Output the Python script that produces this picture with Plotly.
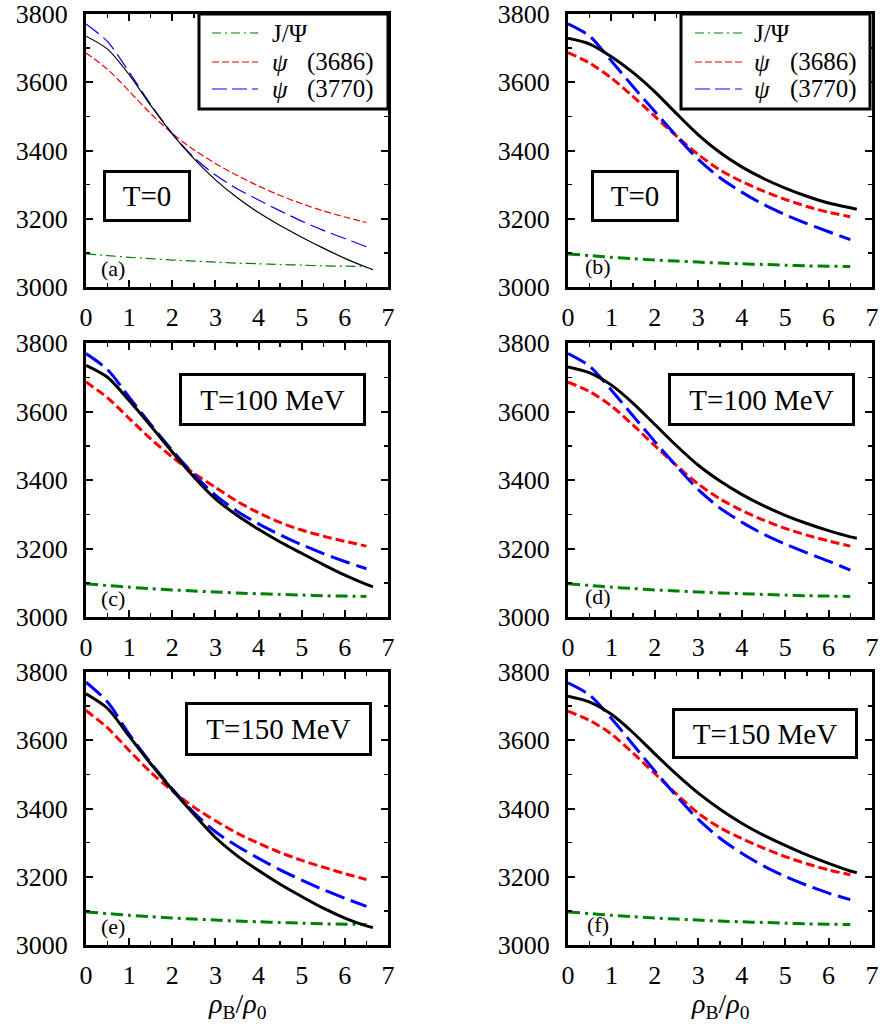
import plotly.graph_objects as go

# ---------------- data ----------------
x_grid = [0, 0.5, 1, 1.5, 2, 2.5, 3, 3.5, 4, 4.5, 5, 5.5, 6, 6.5]
x_black = [0, 0.5, 1, 1.5, 2, 2.5, 3, 3.5, 4, 4.5, 5, 5.5, 6, 6.5, 6.65]

jpsi = [3097, 3092, 3087, 3083, 3079, 3076, 3073, 3070, 3068, 3066, 3064, 3062, 3061, 3060]

# panel (a)
a_black = [3735, 3697, 3622, 3532, 3448, 3376, 3314, 3262, 3218, 3180, 3146, 3114, 3084, 3058, 3051]
a_blue = [3771, 3719, 3630, 3535, 3450, 3380, 3328, 3288, 3255, 3223, 3193, 3166, 3142, 3118]
a_red = [3686, 3638, 3574, 3508, 3450, 3402, 3362, 3327, 3296, 3268, 3244, 3223, 3205, 3189]
# panel (b)
b_black = [3729, 3712, 3675, 3628, 3572, 3508, 3446, 3394, 3352, 3318, 3290, 3266, 3246, 3232, 3228]
b_blue = [3771, 3735, 3662, 3587, 3514, 3442, 3374, 3320, 3278, 3242, 3212, 3186, 3162, 3139]
b_red = [3687, 3656, 3612, 3558, 3500, 3442, 3388, 3343, 3309, 3281, 3257, 3236, 3219, 3206]
# panel (c)
c_black = [3735, 3700, 3632, 3558, 3482, 3409, 3345, 3297, 3256, 3219, 3186, 3153, 3122, 3095, 3088]
c_blue = [3769, 3722, 3642, 3562, 3486, 3416, 3356, 3309, 3272, 3240, 3211, 3185, 3162, 3141]
c_red = [3686, 3640, 3580, 3520, 3467, 3420, 3378, 3338, 3304, 3276, 3254, 3236, 3221, 3207]
# panel (d)
d_black = [3730, 3713, 3677, 3624, 3562, 3500, 3443, 3397, 3358, 3325, 3297, 3273, 3252, 3234, 3230]
d_blue = [3769, 3732, 3662, 3587, 3512, 3440, 3372, 3318, 3277, 3242, 3213, 3187, 3163, 3137]
d_red = [3686, 3658, 3616, 3560, 3500, 3442, 3388, 3345, 3311, 3283, 3259, 3239, 3222, 3207]
# panel (e)
e_black = [3736, 3693, 3612, 3531, 3455, 3383, 3315, 3262, 3218, 3178, 3142, 3108, 3079, 3056, 3051]
e_blue = [3770, 3712, 3618, 3534, 3457, 3388, 3332, 3290, 3254, 3220, 3190, 3162, 3137, 3113]
e_red = [3687, 3636, 3570, 3506, 3452, 3404, 3364, 3328, 3298, 3271, 3248, 3228, 3209, 3192]
# panel (f)
f_black = [3729, 3712, 3676, 3622, 3560, 3500, 3445, 3398, 3357, 3322, 3292, 3264, 3239, 3217, 3212]
f_blue = [3768, 3732, 3664, 3587, 3510, 3436, 3368, 3313, 3269, 3232, 3201, 3175, 3152, 3133]
f_red = [3685, 3658, 3618, 3562, 3502, 3442, 3386, 3344, 3312, 3284, 3259, 3238, 3220, 3206]

panel_labels = ["(a)", "(b)", "(c)", "(d)", "(e)", "(f)"]
temp_labels = ["T=0", "T=0", "T=100 MeV", "T=100 MeV", "T=150 MeV", "T=150 MeV"]
legend_names = ["J/Ψ", "<i>ψ</i>", "<i>ψ</i>"]
legend_nums = ["", "(3686)", "(3770)"]
x_ticks = [0, 1, 2, 3, 4, 5, 6, 7]
y_ticks = [3000, 3200, 3400, 3600, 3800]

panels = [
    (a_black, a_blue, a_red),
    (b_black, b_blue, b_red),
    (c_black, c_blue, c_red),
    (d_black, d_blue, d_red),
    (e_black, e_blue, e_red),
    (f_black, f_blue, f_red),
]

# ---------------- layout helpers ----------------
W, H = 880, 1024
FONT = "Liberation Serif"
GREEN, RED, BLUE, BLACK = "#008000", "#ff0000", "#0000ff", "#000000"


def px(x):
    return x / W


def py(y):
    return 1 - y / H


col_dom = [(px(86), px(388)), (px(568), px(872))]
row_dom = [(py(287), py(14)), (py(617), py(343)), (py(945), py(672))]

fig = go.Figure()

for i, (blk, blu, red) in enumerate(panels):
    r, c = divmod(i, 2)
    n = i + 1
    xa = "x" if n == 1 else f"x{n}"
    ya = "y" if n == 1 else f"y{n}"
    thin = (i == 0)
    lw = 1.2 if thin else 3
    dash_g = "10px,4px,2px,4px" if thin else "12px,5px,3px,5px"
    dash_r = "7px,3px" if thin else "9px,4px"
    dash_b = "16px,6px" if thin else "20px,7px"
    common = dict(xaxis=xa, yaxis=ya, mode="lines", showlegend=False,
                  line_shape="spline", hoverinfo="skip")
    fig.add_trace(go.Scatter(x=x_grid, y=jpsi, line=dict(color=GREEN, width=lw, dash=dash_g, smoothing=0.8), **common))
    fig.add_trace(go.Scatter(x=x_grid, y=red, line=dict(color=RED, width=lw, dash=dash_r, smoothing=0.8), **common))
    fig.add_trace(go.Scatter(x=x_grid, y=blu, line=dict(color=BLUE, width=lw, dash=dash_b, smoothing=0.8), **common))
    fig.add_trace(go.Scatter(x=x_black, y=blk, line=dict(color=BLACK, width=lw, smoothing=0.8), **common))

    axis_common = dict(showline=True, linewidth=3, linecolor="black", mirror="ticks",
                       ticks="inside", ticklen=7, tickwidth=2, tickcolor="black",
                       showgrid=False, zeroline=False, automargin=False,
                       ticklabeloverflow="allow",
                       tickfont=dict(family=FONT, size=26, color="black"))
    xkey = "xaxis" if n == 1 else f"xaxis{n}"
    ykey = "yaxis" if n == 1 else f"yaxis{n}"
    fig.update_layout({
        xkey: dict(domain=col_dom[c], anchor=ya, range=[0, 7], tickvals=x_ticks,
                   minor=dict(dtick=0.5, tick0=0, ticks="inside", ticklen=4, tickwidth=1.5, tickcolor="black"),
                   ticklabelstandoff=5, **axis_common),
        ykey: dict(domain=row_dom[r], anchor=xa, range=[3000, 3800], tickvals=y_ticks,
                   minor=dict(dtick=100, tick0=3000, ticks="inside", ticklen=4, tickwidth=1.5, tickcolor="black"),
                   ticklabelstandoff=10, **axis_common),
    })

# panel letters
label_pos = [(0.63, 3053), (0.69, 3059), (0.63, 3053), (0.69, 3059), (0.63, 3053), (0.69, 3059)]
for i, lab in enumerate(panel_labels):
    n = i + 1
    fig.add_annotation(x=label_pos[i][0], y=label_pos[i][1],
                       xref="x" if n == 1 else f"x{n}", yref="y" if n == 1 else f"y{n}",
                       text=lab, showarrow=False, xanchor="center", yanchor="middle",
                       font=dict(family=FONT, size=22, color="black"))

# temperature boxes
temp_pos = [(1.414, 3267, 82, 46), (1.554, 3267, 82, 46), (4.32, 3635, 181, 47),
            (4.455, 3635, 181, 47), (4.46, 3633, 181, 48), (4.536, 3620, 180, 45)]
for i, lab in enumerate(temp_labels):
    n = i + 1
    xx, yy, ww, hh = temp_pos[i]
    fig.add_annotation(x=xx, y=yy, xref="x" if n == 1 else f"x{n}", yref="y" if n == 1 else f"y{n}",
                       text=lab, showarrow=False, width=ww, height=hh, borderpad=0,
                       xanchor="center", yanchor="middle",
                       bordercolor="black", borderwidth=3, bgcolor="white",
                       font=dict(family=FONT, size=29, color="black"))

# legends (panels a and b)
leg_geo = [
    dict(box=(199, 388, 14, 109), line=(212, 258), text=270, num=305),
    dict(box=(681, 870, 14, 109), line=(695, 742), text=752, num=788),
]
leg_rows = [33, 62, 89]
leg_styles = [(GREEN, "9px,4px,2px,4px"), (RED, "7px,3px"), (BLUE, "15px,5px")]
for g in leg_geo:
    x0, x1, y0, y1 = g["box"]
    fig.add_shape(type="rect", xref="paper", yref="paper", x0=px(x0), x1=px(x1), y0=py(y1), y1=py(y0),
                  line=dict(color="black", width=3), fillcolor="white", layer="above")
    for k, yr in enumerate(leg_rows):
        col, dsh = leg_styles[k]
        fig.add_shape(type="line", xref="paper", yref="paper", x0=px(g["line"][0]), x1=px(g["line"][1]),
                      y0=py(yr), y1=py(yr), line=dict(color=col, width=1.2, dash=dsh), layer="above")
        fig.add_annotation(x=px(g["text"]), y=py(yr), xref="paper", yref="paper",
                           xanchor="left", yanchor="middle",
                           text=legend_names[k], showarrow=False, font=dict(family=FONT, size=25, color="black"))
        if legend_nums[k]:
            fig.add_annotation(x=px(g["num"]), y=py(yr), xref="paper", yref="paper",
                               xanchor="left", yanchor="middle",
                               text=legend_nums[k], showarrow=False, font=dict(family=FONT, size=25, color="black"))

# x-axis titles under the bottom panels
for cx in (237, 720):
    fig.add_annotation(x=px(cx), y=py(1005), xref="paper", yref="paper",
                       xanchor="center", yanchor="middle",
                       text="<i>ρ</i><sub>B</sub>/<i>ρ</i><sub>0</sub>", showarrow=False,
                       font=dict(family=FONT, size=28, color="black"))

fig.update_layout(width=W, height=H, autosize=False, margin=dict(l=0, r=0, t=0, b=0),
                  paper_bgcolor="white", plot_bgcolor="white")

fig.write_html("out.html", config={"displayModeBar": False, "staticPlot": True},
               post_script="document.body.style.margin='0px';document.body.style.padding='0px';")
